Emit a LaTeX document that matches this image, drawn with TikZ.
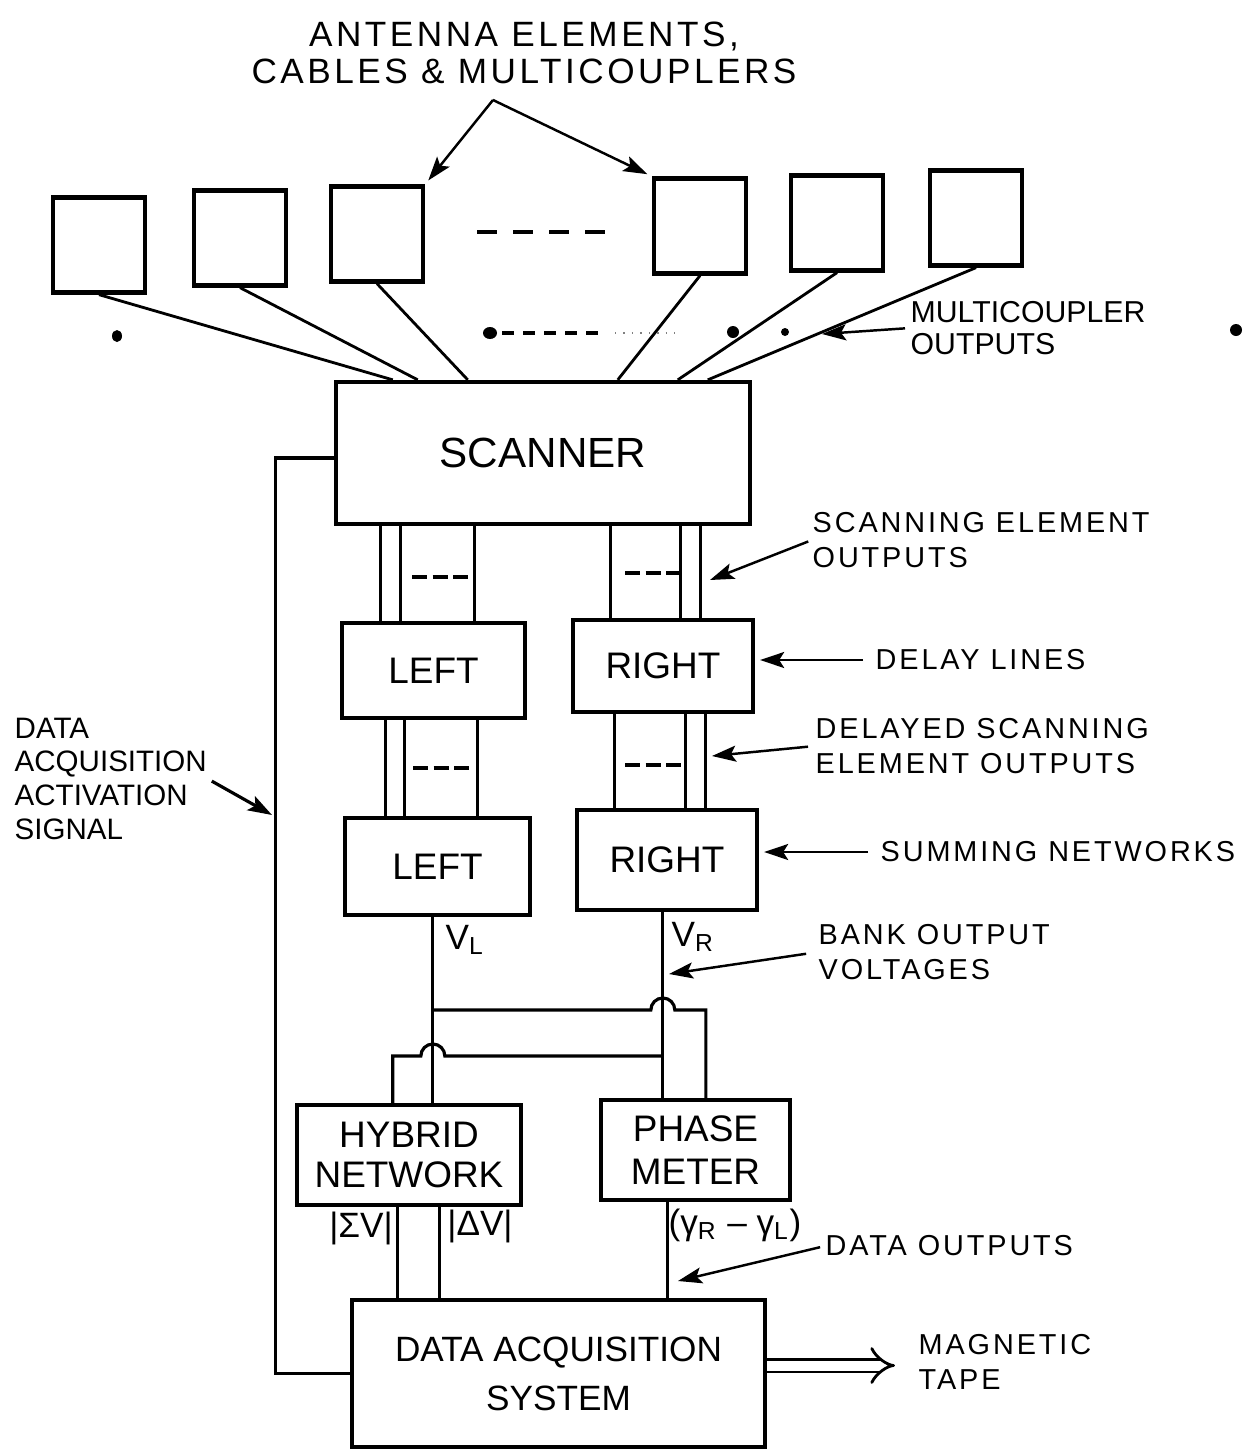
\documentclass[tikz,border=0pt]{standalone}
\usepackage{fontspec}
\setmainfont{Liberation Sans}
\newfontfamily\spaced[LetterSpace=10]{Liberation Sans}
\usetikzlibrary{positioning,arrows.meta,calc}

\begin{document}
\begin{tikzpicture}[
    x=0.01cm, y=-0.01cm,
    >={Stealth[length=0.24cm,width=0.16cm,inset=0.05cm]},
    unit/.style={
        draw,
        line width=1.2pt,
        inner sep=0pt,
        align=center,
        font=\fontsize{10.5}{11.5}\selectfont
    },
    ant/.style={
        unit,
        minimum width=0.92cm,
        minimum height=0.95cm
    },
    note/.style={
        inner sep=0pt,
        align=left,
        anchor=west,
        font=\spaced\fontsize{8.2}{10}\selectfont
    },
    wire/.style={line width=0.9pt},
    pointer/.style={->, line width=0.7pt},
    gapdash/.style={line width=1.4pt, dash pattern=on 0.15cm off 0.055cm}
]
\useasboundingbox (0,0) rectangle (1245,1451);

% Antenna elements
\node[font=\spaced\fontsize{10}{10.5}\selectfont, align=center] (title) at (524,53) {ANTENNA ELEMENTS,\\CABLES \& MULTICOUPLERS};
\node[ant] (ant1) at (99,245) {};
\node[ant] (ant2) at (240,238) {};
\node[ant] (ant3) at (377,234) {};
\node[ant] (ant4) at (700,226) {};
\node[ant] (ant5) at (837,223) {};
\node[ant] (ant6) at (976,218) {};
\draw[line width=1.4pt, dash pattern=on 0.2cm off 0.16cm] (477,232) -- (605,232);

\coordinate (apex) at (493,100);
\draw[pointer, shorten >=0.05cm] (apex) -- (ant3.north east);
\draw[pointer, shorten >=0.05cm] (apex) -- (ant4.north west);

% Scanner
\node[unit, minimum width=4.14cm, minimum height=1.42cm, font=\fontsize{12}{14}\selectfont] (scanner) at (543,453) {SCANNER};
\foreach \i/\dx in {1/59,2/84,3/134,4/284,5/344,6/374}
    \draw[line width=0.8pt] (ant\i.south) -- ($(scanner.north west)+(\dx,0)$);

% Multicoupler outputs
\fill (117,336) ellipse[x radius=5, y radius=6];
\fill (490,333) ellipse[x radius=7, y radius=6];
\draw[line width=1.4pt, dash pattern=on 0.12cm off 0.09cm] (502,333) -- (600,333);
\draw[gray, dotted] (615,333) -- (680,333);
\fill (733,332) ellipse[x radius=6, y radius=6];
\fill (785,332) circle[radius=4];
\fill (1236,330) ellipse[x radius=6, y radius=6];
\node[note, font=\fontsize{8.6}{9}\selectfont] (mcout) at (910,328) {MULTICOUPLER\\OUTPUTS};
\coordinate (mctip) at (822,334);
\draw[pointer, shorten <=0.05cm] (mcout.west) -- (mctip);

% Delay lines and summing networks
\node[unit, minimum width=1.83cm, minimum height=0.95cm] (left1) at (433.5,670.5) {LEFT};
\node[unit, minimum width=1.80cm, minimum height=0.92cm] (right1) at (663,666) {RIGHT};
\node[unit, minimum width=1.85cm, minimum height=0.97cm] (left2) at (437.5,866.5) {LEFT};
\node[unit, minimum width=1.80cm, minimum height=1.00cm] (right2) at (667,860) {RIGHT};

\foreach \dx in {41,61,135} {
    \path ($(left1.north west)+(\dx,0)$) coordinate (t);
    \draw[wire] (t) -- (t |- scanner.south);
}
\foreach \dx in {40,110,130} {
    \path ($(right1.north west)+(\dx,0)$) coordinate (t);
    \draw[wire] (t) -- (t |- scanner.south);
}
\foreach \dx in {43,62,135} {
    \path ($(left2.north west)+(\dx,0)$) coordinate (t);
    \draw[wire] (t) -- (t |- left1.south);
}
\foreach \dx in {40,111,131} {
    \path ($(right2.north west)+(\dx,0)$) coordinate (t);
    \draw[wire] (t) -- (t |- right1.south);
}
\draw[gapdash] (412,577) -- (470,577);
\draw[gapdash] (625,573) -- (682,573);
\draw[gapdash] (413,768) -- (472,768);
\draw[gapdash] (625,765) -- (684,765);

% Labels on the right
\node[note] (seo) at (812,540) {SCANNING ELEMENT\\OUTPUTS};
\node[note] (dly) at (875,660) {DELAY LINES};
\node[note] (dseo) at (815,746) {DELAYED SCANNING\\ELEMENT OUTPUTS};
\node[note] (sumn) at (880,852) {SUMMING NETWORKS};
\node[note] (bov) at (818,952) {BANK OUTPUT\\VOLTAGES};
\node[note] (dout) at (825,1246) {DATA OUTPUTS};
\node[note] (tape) at (918,1362) {MAGNETIC\\TAPE};

\coordinate (seotip) at (710,580);
\coordinate (dseotip) at (712,756);
\coordinate (bovtip) at (669,974);
\coordinate (douttip) at (678,1281);
\draw[pointer, shorten <=0.04cm] (seo.west) -- (seotip);
\draw[pointer, shorten <=0.12cm, shorten >=0.05cm] (dly.west) -- (dly.west -| right1.east);
\draw[pointer, shorten <=0.07cm] (dseo.west) -- (dseotip);
\draw[pointer, shorten <=0.12cm, shorten >=0.05cm] (sumn.west) -- (sumn.west -| right2.east);
\draw[pointer, shorten <=0.12cm] (bov.west) -- (bovtip);
\draw[pointer, shorten <=0.05cm] (dout.west) -- (douttip);

% Hybrid network and phase meter
\node[unit, minimum width=2.24cm, minimum height=1.00cm] (hybrid) at (409,1155) {HYBRID\\NETWORK};
\node[unit, minimum width=1.89cm, minimum height=1.00cm, font=\fontsize{10.5}{12.2}\selectfont] (phase) at (695.5,1150) {PHASE\\METER};

\path ($(left2.south west)+(90,0)$) coordinate (vl);
\path ($(right2.south west)+(88,0)$) coordinate (vr);
\path ($(phase.north west)+(107,0)$) coordinate (ph2);
\path ($(hybrid.north west)+(98,0)$) coordinate (hy1);
\draw[wire] (vl) -- (vl |- hybrid.north);
\draw[wire] (vr) -- (vr |- phase.north);
\coordinate (jumpR) at (vr |- 0,1010);
\coordinate (jumpL) at (vl |- 0,1056);
\draw[wire] (vl |- jumpR) -- ([xshift=-0.12cm]jumpR) arc[start angle=180, end angle=360, radius=12] -- (ph2 |- jumpR) -- (ph2);
\draw[wire] (vr |- jumpL) -- ([xshift=0.12cm]jumpL) arc[start angle=0, end angle=-180, radius=12] -- (hy1 |- jumpL) -- (hy1);

\node[anchor=west, inner sep=0pt, font=\fontsize{10}{12}\selectfont] (vlab) at (445,940) {V\textsubscript{L}};
\node[anchor=west, inner sep=0pt, font=\fontsize{10}{12}\selectfont] (vrab) at (671,937) {V\textsubscript{R}};

% Data acquisition
\node[unit, minimum width=4.13cm, minimum height=1.47cm, font=\fontsize{10}{14}\selectfont] (daq) at (558.5,1373.5) {DATA ACQUISITION\\SYSTEM};
\foreach \dx in {103,145} {
    \path ($(hybrid.south west)+(\dx,0)$) coordinate (t);
    \draw[wire] (t) -- (t |- daq.north);
}
\path ($(phase.south west)+(69,0)$) coordinate (po);
\draw[wire] (po) -- (po |- daq.north);
\node[inner sep=0pt, font=\fontsize{10}{12}\selectfont] (sumv) at (361,1228) {|ΣV|};
\node[inner sep=0pt, font=\fontsize{10}{12}\selectfont] (difv) at (480,1226) {|ΔV|};
\node[inner sep=0pt, font=\fontsize{10}{12}\selectfont] (phv) at (735,1225) {(γ\textsubscript{R} – γ\textsubscript{L})};

\draw[double, double distance=0.1cm, line width=0.8pt, -{Implies[length=0.28cm, width=0.3cm]}, shorten >=0.23cm] ([yshift=0.08cm]daq.east) -- ([yshift=0.08cm]daq.east -| tape.west);

% Activation signal loop
\draw[wire] ([yshift=-0.05cm]scanner.west) -- ++(-58,0) |- (daq.west);
\node[note, anchor=north west, font=\fontsize{8.4}{9.6}\selectfont] (acq) at (14,717) {DATA\\ACQUISITION\\ACTIVATION\\SIGNAL};
\coordinate (acttip) at (272,815);
\draw[pointer, line width=0.9pt, shorten <=0.05cm] (acq.east) -- (acttip);

\end{tikzpicture}
\end{document}
